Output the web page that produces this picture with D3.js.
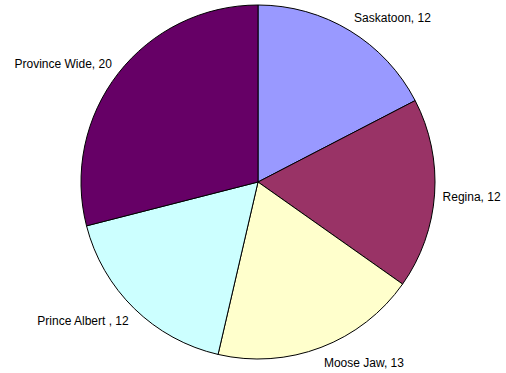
<!DOCTYPE html>
<html>
<head>
<meta charset="utf-8">
<script src="https://cdn.jsdelivr.net/npm/d3@7"></script>
<style>
  html, body { margin: 0; padding: 0; background: #fff; }
  svg { display: block; }
  text { font-family: "Liberation Sans", Arial, sans-serif; font-size: 12px; fill: #000; }
</style>
</head>
<body>
<svg id="chart" width="506" height="373"></svg>
<script>
// Event counts by location
const categories = ["Saskatoon", "Regina", "Moose Jaw", "Prince Albert ", "Province Wide"];
const values = [12, 12, 13, 12, 20];
const colors = ["#9999FF", "#993366", "#FFFFCC", "#CCFFFF", "#660066"];

const width = 506, height = 373;
const cx = 258, cy = 182, radius = 177;

const svg = d3.select("#chart");
const g = svg.append("g").attr("transform", `translate(${cx},${cy})`);

const data = categories.map((c, i) => ({ name: c, value: values[i], color: colors[i] }));

const pie = d3.pie().value(d => d.value).sort(null);
const arc = d3.arc().innerRadius(0).outerRadius(radius);
const arcs = pie(data);

g.selectAll("path.slice")
  .data(arcs)
  .join("path")
  .attr("class", "slice")
  .attr("d", arc)
  .attr("fill", d => d.data.color)
  .attr("stroke", "#000")
  .attr("stroke-width", 1)
  .attr("stroke-linejoin", "round");

// Labels sit just outside the rim, on the side of the slice's mid-angle
const labelR = radius + 8;
const lineH = 12;
g.selectAll("text.label")
  .data(arcs)
  .join("text")
  .attr("class", "label")
  .each(function(d) {
    const a = (d.startAngle + d.endAngle) / 2;
    const s = Math.sin(a), c = Math.cos(a);
    const px = labelR * s, py = -labelR * c;
    const yc = py - c * lineH / 2 + (c < 0 ? 2 : -1);
    d3.select(this)
      .attr("x", px)
      .attr("y", yc)
      .attr("dy", "0.35em")
      .attr("text-anchor", s >= 0 ? "start" : "end")
      .text(`${d.data.name}, ${d.data.value}`);
  });
</script>
</body>
</html>
